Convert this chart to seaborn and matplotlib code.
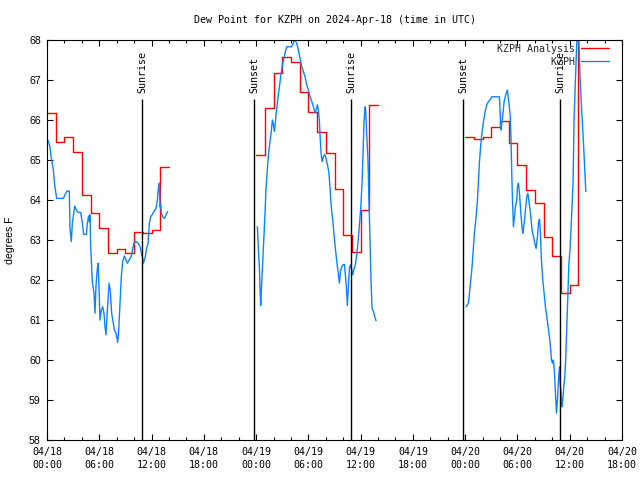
import pandas as pd
import matplotlib
matplotlib.use("Agg")
import matplotlib.pyplot as plt
import matplotlib.dates as mdates
from matplotlib.lines import Line2D
import seaborn as sns


START = pd.Timestamp("2024-04-18 00:00")
END = pd.Timestamp("2024-04-20 18:00")

# Hourly analysis values (each holds for one hour), three blocks
ANL_START_HR = [0, 24, 48]
ANL_1 = [66.17, 65.46, 65.57, 65.19, 64.13, 63.67, 63.29, 62.67, 62.77, 62.67,
         63.21, 63.17, 63.25, 64.82]
ANL_2 = [65.12, 66.31, 67.17, 67.57, 67.45, 66.69, 66.2, 65.69, 65.17, 64.27,
         63.13, 62.71, 63.75, 66.38]
ANL_3 = [65.57, 65.53, 65.58, 65.83, 65.98, 65.42, 64.88, 64.25, 63.93, 63.08,
         62.6, 61.67, 61.88, 70.0]

# Observations: hours after 04/18 00:00 UTC and dew point (F)
OBS1_HR = [0.11, 0.34, 0.50, 0.73, 0.88, 1.11, 1.88, 2.26, 2.56, 2.64, 2.79, 2.91,
           3.18, 3.37, 3.56, 3.87, 4.06, 4.21, 4.52, 4.63, 4.78, 4.86, 4.94, 5.01,
           5.20, 5.40, 5.51, 5.63, 5.78, 5.86, 5.97, 6.08, 6.24, 6.39, 6.54, 6.66,
           6.77, 6.93, 7.12, 7.27, 7.42, 7.58, 7.73, 7.92, 8.11, 8.23, 8.38, 8.53,
           8.69, 8.88, 9.07, 9.22, 9.45, 9.68, 9.84, 9.99, 10.22, 10.45, 10.68,
           10.83, 10.95, 11.06, 11.25, 11.44, 11.60, 11.75, 11.90, 12.09, 12.28,
           12.51, 12.67, 12.78, 12.90, 12.97, 13.05, 13.13, 13.28, 13.51, 13.66,
           13.85]
OBS1 = [65.5, 65.33, 65.04, 64.75, 64.38, 64.04, 64.04, 64.22, 64.22, 63.29, 62.96,
        63.42, 63.85, 63.75, 63.69, 63.69, 63.42, 63.14, 63.14, 63.42, 63.6, 63.46,
        63.63, 62.88, 61.96, 61.67, 61.17, 61.88, 62.29, 62.42, 61.83, 61.0, 61.25,
        61.33, 61.17, 60.83, 60.63, 61.25, 61.92, 61.71, 61.17, 60.96, 60.75, 60.67,
        60.44, 60.75, 61.42, 62.08, 62.46, 62.6, 62.5, 62.42, 62.5, 62.6, 62.79,
        62.93, 62.96, 62.92, 62.83, 62.68, 62.58, 62.42, 62.54, 62.79, 62.92, 63.42,
        63.58, 63.64, 63.71, 63.79, 64.0, 64.29, 64.42, 63.83, 63.88, 63.67, 63.58,
        63.54, 63.63, 63.71]

OBS2_HR = [24.15, 24.26, 24.38, 24.46, 24.53, 24.65, 24.76, 24.91, 25.03, 25.14,
           25.30, 25.45, 25.60, 25.76, 25.87, 25.99, 26.10, 26.18, 26.29, 26.44,
           26.60, 26.75, 26.90, 27.06, 27.21, 27.36, 27.52, 28.09, 28.28, 28.47,
           28.66, 28.86, 29.05, 29.24, 29.43, 29.62, 29.81, 30.00, 30.20, 30.39,
           30.58, 30.77, 30.88, 31.04, 31.15, 31.27, 31.34, 31.46, 31.57, 31.73,
           31.88, 32.03, 32.19, 32.34, 32.49, 32.64, 32.80, 32.95, 33.10, 33.26,
           33.41, 33.56, 33.68, 33.83, 33.98, 34.14, 34.25, 34.37, 34.48, 34.60,
           34.71, 34.83, 34.94, 35.09, 35.25, 35.40, 35.55, 35.71, 35.86, 36.01,
           36.17, 36.28, 36.39, 36.51, 36.59, 36.70, 36.85, 36.93, 37.08, 37.20,
           37.31, 37.47, 37.62, 37.77]
OBS2 = [63.33, 62.79, 62.29, 61.71, 61.36, 61.96, 62.46, 63.13, 63.71, 64.29, 64.79,
        65.21, 65.46, 65.75, 66.0, 65.88, 65.71, 65.88, 66.13, 66.42, 66.71, 66.96,
        67.21, 67.42, 67.56, 67.71, 67.83, 67.83, 67.94, 68.0, 67.92, 67.75, 67.54,
        67.33, 67.21, 67.08, 66.88, 66.75, 66.58, 66.46, 66.33, 66.17, 66.25, 66.38,
        66.25, 65.96, 65.63, 65.17, 64.96, 65.08, 65.14, 65.04, 64.88, 64.71, 64.29,
        63.79, 63.5, 63.13, 62.79, 62.46, 62.21, 61.92, 62.21, 62.33, 62.38, 62.39,
        62.13, 61.79, 61.36, 61.88, 62.29, 62.38, 62.29, 62.13, 62.29, 62.38, 62.63,
        62.96, 63.38, 63.79, 64.46, 65.21, 65.96, 66.33, 66.21, 65.63, 64.96, 64.21,
        62.96, 61.92, 61.29, 61.21, 61.08, 60.98]

OBS3_HR = [48.11, 48.37, 48.49, 48.64, 48.79, 48.95, 49.06, 49.22, 49.41, 49.52,
           49.64, 49.79, 49.94, 50.10, 50.29, 50.48, 50.67, 50.86, 51.05, 51.93,
           52.01, 52.09, 52.20, 52.32, 52.47, 52.66, 52.85, 53.00, 53.16, 53.27,
           53.35, 53.43, 53.54, 53.66, 53.77, 53.92, 54.00, 54.11, 54.23, 54.31,
           54.42, 54.54, 54.61, 54.77, 54.92, 55.07, 55.19, 55.30, 55.45, 55.57,
           55.68, 55.84, 55.99, 56.14, 56.30, 56.41, 56.53, 56.64, 56.75, 56.91,
           57.06, 57.21, 57.37, 57.52, 57.67, 57.79, 57.90, 58.02, 58.13, 58.25,
           58.36, 58.48, 58.59, 58.71, 58.82, 58.90, 59.01, 59.09, 59.20, 59.32,
           59.43, 59.55, 59.66, 59.78, 59.89, 60.05, 60.16, 60.28, 60.39, 60.50,
           60.66, 60.81, 60.95, 61.20, 61.39, 61.58, 61.69, 61.85]
OBS3 = [61.33, 61.42, 61.67, 62.0, 62.33, 62.83, 63.17, 63.5, 64.0, 64.46, 64.96,
        65.38, 65.71, 65.96, 66.21, 66.38, 66.46, 66.5, 66.58, 66.58, 66.21, 65.75,
        65.92, 66.13, 66.46, 66.63, 66.75, 66.46, 66.13, 65.46, 64.63, 64.0, 63.33,
        63.58, 63.83, 64.0, 64.33, 64.42, 64.17, 63.92, 63.58, 63.29, 63.17, 63.42,
        63.75, 64.08, 64.17, 64.0, 63.75, 63.5, 63.25, 63.08, 62.92, 62.79, 63.08,
        63.42, 63.52, 63.17, 62.5, 62.0, 61.67, 61.33, 61.08, 60.83, 60.58, 60.33,
        60.0, 59.92, 60.0, 59.67, 59.17, 58.67, 59.0, 59.5, 59.83, 59.42, 59.17,
        58.83, 59.0, 59.33, 59.58, 60.08, 60.83, 61.58, 62.33, 62.83, 63.33, 63.92,
        64.5, 66.04, 67.04, 67.96, 68.6, 67.0, 66.17, 65.42, 64.92, 64.21]

SUNRISE_HR = [10.93, 34.93, 58.93]
SUNSET_HR = [23.8, 47.8]


def to_time(hours):
    return START + pd.to_timedelta(pd.Series(hours, dtype=float), unit="h")


# Analysis table: repeat last value so the final hour gets drawn as a step
anl_frames = []
for seg, (h0, vals) in enumerate(zip(ANL_START_HR, [ANL_1, ANL_2, ANL_3])):
    hrs = [h0 + i for i in range(len(vals) + 1)]
    anl_frames.append(pd.DataFrame({"time": to_time(hrs),
                                    "dewpt": vals + [vals[-1]], "seg": seg}))
df_anl = pd.concat(anl_frames, ignore_index=True)

obs_frames = []
for seg, (hrs, vals) in enumerate(zip([OBS1_HR, OBS2_HR, OBS3_HR], [OBS1, OBS2, OBS3])):
    obs_frames.append(pd.DataFrame({"time": to_time(hrs), "dewpt": vals, "seg": seg}))
df_obs = pd.concat(obs_frames, ignore_index=True)

RED = "#ff0000"
BLUE = "#0a84ff"
MONO = "DejaVu Sans Mono"
SANS = "Liberation Sans"

sns.set_theme(style="ticks")
plt.rcParams["font.family"] = [MONO, "DejaVu Sans"]
plt.rcParams["axes.linewidth"] = 0.8

fig = plt.figure(figsize=(6.4, 4.8), dpi=100)
ax = fig.add_axes([47 / 640, 40 / 480, 575 / 640, 400 / 480])

sns.lineplot(data=df_anl, x="time", y="dewpt", units="seg", estimator=None,
             color=RED, lw=1.0, drawstyle="steps-post", legend=False, ax=ax)
sns.lineplot(data=df_obs, x="time", y="dewpt", units="seg", estimator=None,
             color=BLUE, lw=1.0, legend=False, ax=ax)

# Sunrise / sunset markers
for hrs, name in [(SUNRISE_HR, "Sunrise"), (SUNSET_HR, "Sunset")]:
    times = to_time(hrs)
    ax.vlines(times, 58, 66.52, color="black", lw=1.0, zorder=3)
    for t in times:
        ax.text(t, 66.68, name, rotation=90, ha="center", va="bottom",
                fontsize=7.2, family=MONO, color="black")

ax.set_xlim(START, END)
ax.set_ylim(58, 68)
ax.set_yticks(range(58, 69))
ax.xaxis.set_major_locator(mdates.HourLocator(byhour=[0, 6, 12, 18]))
ax.xaxis.set_minor_locator(mdates.HourLocator(byhour=range(0, 24, 2)))
ax.xaxis.set_major_formatter(mdates.DateFormatter("%m/%d\n%H:%M"))

ax.tick_params(which="both", direction="in", top=True, right=True,
               color="black", width=0.8, labelcolor="black")
ax.tick_params(which="major", length=4.5)
ax.tick_params(which="minor", length=2.5)
ax.tick_params(axis="x", labelsize=7.2, pad=5)
ax.tick_params(axis="y", labelsize=7.6, pad=4.5)
for lab in ax.get_yticklabels():
    lab.set_family(SANS)
for sp in ax.spines.values():
    sp.set_color("black")
    sp.set_linewidth(0.8)

ax.set_xlabel("")
ax.set_ylabel("degrees F", family=SANS, fontsize=7.6, color="black")
ax.yaxis.set_label_coords(-0.056, 0.5)
ax.set_title("Dew Point for KZPH on 2024-Apr-18 (time in UTC)", fontsize=7.2,
             family=MONO, color="black", pad=12)

handles = [Line2D([], [], color=RED, lw=1.0), Line2D([], [], color=BLUE, lw=1.0)]
leg = ax.legend(handles, ["KZPH Analysis", "         KZPH"], loc="upper right",
                bbox_to_anchor=(0.977, 0.99), markerfirst=False, frameon=False,
                prop={"family": MONO, "size": 7.2}, handlelength=2.8,
                handletextpad=0.6, labelspacing=0.3, borderpad=0, borderaxespad=0)
leg.set_zorder(10)

fig.canvas.draw()
for lab in ax.get_xticklabels():
    lab.set_linespacing(1.35)

fig.savefig("out.png", dpi=100)
